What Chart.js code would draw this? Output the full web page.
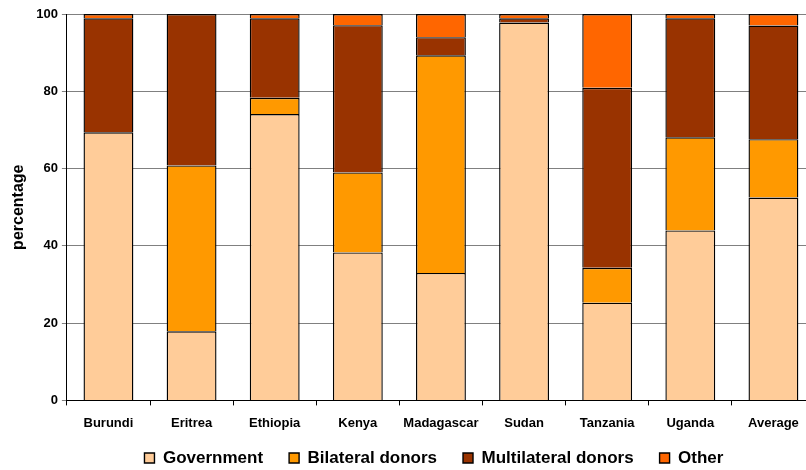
<!DOCTYPE html>
<html>
<head>
<meta charset="utf-8">
<script src="https://cdn.jsdelivr.net/npm/chart.js@4"></script>
<style>
  html, body { margin: 0; padding: 0; overflow: hidden; background: #fff; }
  #wrap { width: 816px; height: 470px; position: relative; }
</style>
</head>
<body>
<div id="wrap"><canvas id="c"></canvas></div>
<script>
const categories = ["Burundi", "Eritrea", "Ethiopia", "Kenya", "Madagascar", "Sudan", "Tanzania", "Uganda", "Average"];
const government  = [69.4, 17.9, 74.1, 38.3, 33.0, 97.8, 25.3, 44.0, 52.5];
const bilateral   = [0.0, 42.9, 4.2, 20.7, 56.3, 0.0, 9.0, 24.1, 15.1];
const multilateral= [29.5, 39.2, 20.6, 38.1, 4.7, 1.1, 46.6, 30.8, 29.4];
const other       = [1.1, 0.0, 1.1, 2.9, 6.0, 1.1, 19.1, 1.1, 3.0];
const yTicks = [0, 20, 40, 60, 80, 100];

const FONT = 'Arial, "Liberation Sans", sans-serif';
const LEGEND_PAD = 26;
const LEGEND_FONT = 17;
function ds(label, data, color) {
  return { label, data, backgroundColor: color, borderColor: '#000', borderWidth: 1.4,
           categoryPercentage: 1.0, barPercentage: 0.6 };
}
const legendPlacer = {
  id: 'legendPlacer',
  afterLayout(chart) {
    const lg = chart.legend;
    if (!lg) return;
    const h = lg.height;
    lg.top = 458 - LEGEND_PAD - LEGEND_FONT / 2;
    lg.bottom = lg.top + h;
    lg.left -= 7;
    lg.right -= 7;
  }
};
new Chart(document.getElementById('c'), {
  type: 'bar',
  data: {
    labels: categories,
    datasets: [
      ds('Government', government, '#FFCC99'),
      ds('Bilateral donors', bilateral, '#FF9900'),
      ds('Multilateral donors', multilateral, '#993300'),
      ds('Other', other, '#FF6600')
    ]
  },
  plugins: [legendPlacer],
  options: {
    responsive: true,
    maintainAspectRatio: false,
    animation: false,
    layout: { padding: { top: 14, right: 1, left: 9, bottom: -24 } },
    plugins: {
      tooltip: { enabled: false },
      legend: {
        position: 'bottom',
        fullSize: false,
        labels: {
          boxWidth: 10, boxHeight: 10, padding: LEGEND_PAD,
          color: '#000',
          font: { family: FONT, size: LEGEND_FONT, weight: 'bold' }
        }
      }
    },
    scales: {
      x: {
        stacked: true,
        grid: { display: true, offset: true, drawOnChartArea: false, color: '#000', tickLength: 5 },
        border: { color: '#000', width: 1 },
        ticks: { color: '#000', font: { family: FONT, size: 13, weight: 'bold' }, padding: 10, maxRotation: 0 }
      },
      y: {
        stacked: true,
        min: 0, max: 100,
        afterBuildTicks: (axis) => { axis.ticks = yTicks.map(v => ({ value: v })); },
        grid: { color: '#808080', lineWidth: 1, tickLength: 5 },
        border: { color: '#000', width: 1 },
        ticks: { color: '#000', font: { family: FONT, size: 13, weight: 'bold' }, padding: 4 },
        title: { display: true, text: 'percentage', color: '#000',
                 font: { family: FONT, size: 16, weight: 'bold' }, padding: { top: 0, bottom: 4 } }
      }
    }
  }
});
</script>
</body>
</html>
